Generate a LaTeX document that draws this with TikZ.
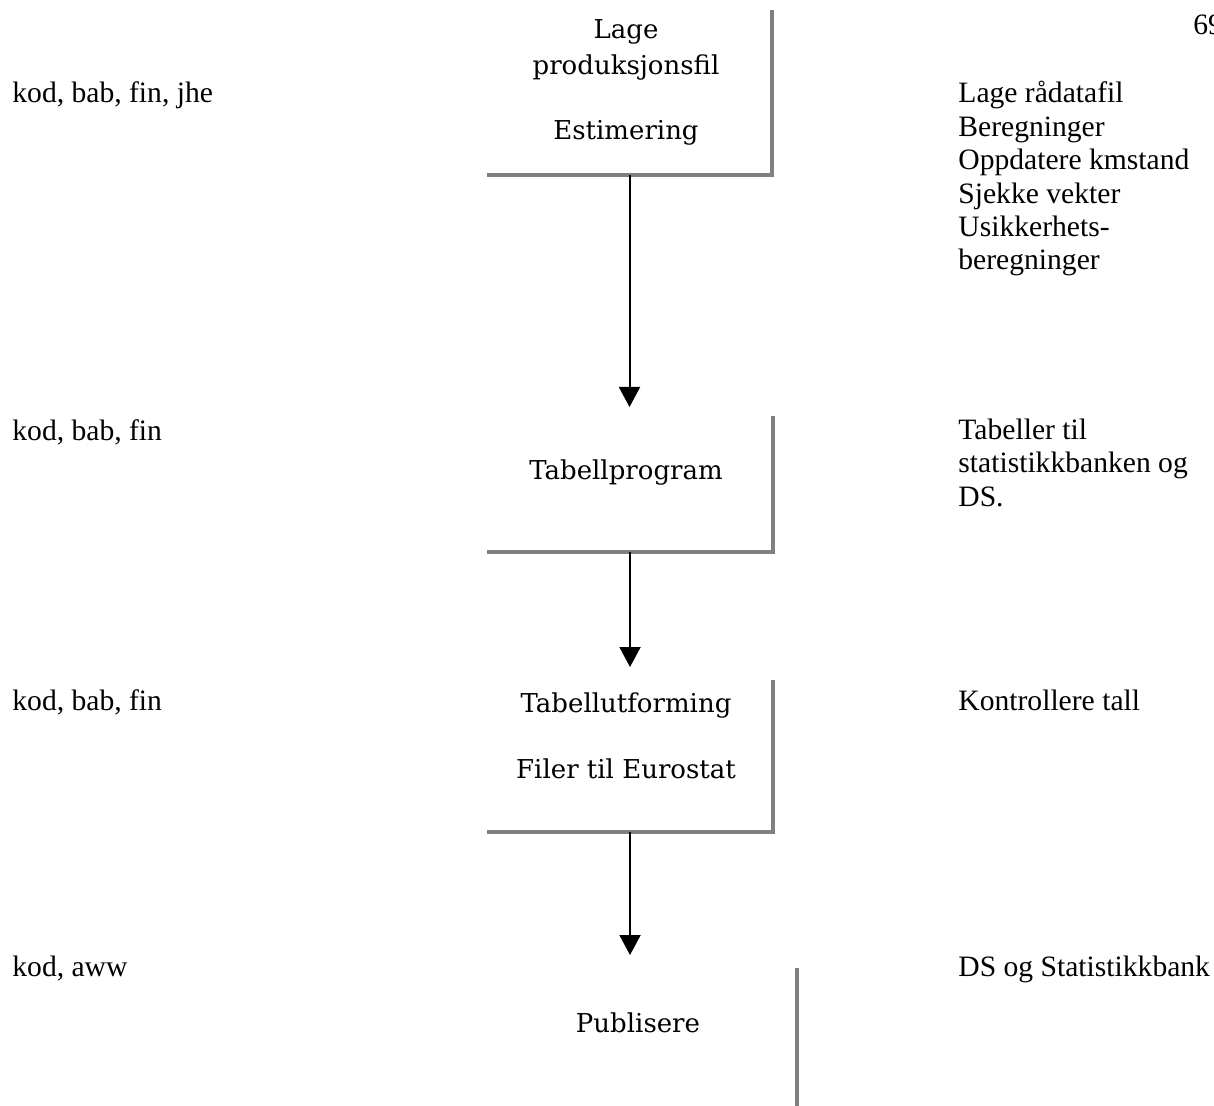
\documentclass[tikz,border=0pt]{standalone}
\usepackage{fontspec}
\setmainfont{Liberation Serif}
\newfontfamily\boxfont{DejaVu Serif}
\usetikzlibrary{arrows.meta}
\begin{document}
\begin{tikzpicture}[x=0.5pt,y=-0.5pt,
  frame/.style={inner sep=0pt, outer sep=0pt, draw=none},
  shadowedge/.style={draw=black!50, line width=2pt, line join=miter},
  flow/.style={draw=black, line width=1pt, -{Triangle[width=10.5pt,length=10pt]}},
  boxtext/.style={inner sep=0pt, anchor=base, align=center,
    font=\boxfont\fontsize{13}{18}\selectfont},
  sidetext/.style={inner sep=0pt, anchor=base west, align=left,
    font=\fontsize{14.8}{16.7}\selectfont}]
\useasboundingbox (0,0) rectangle (1214,1106);
\clip (0,0) rectangle (1214,1106);

% process boxes (only the right and bottom edges are drawn)
\node[frame, minimum width=142.5pt, minimum height=82.5pt] (b1) at (629.5,92.5) {};
\node[frame, minimum width=143pt, minimum height=68pt] (b2) at (630,484) {};
\node[frame, minimum width=143pt, minimum height=76pt] (b3) at (630,756) {};
\node[frame, minimum width=155pt, minimum height=86pt] (b4) at (642,1054) {};

\draw[shadowedge] (b1.north east) -- (b1.south east) -- (b1.south west);
\draw[shadowedge] (b2.north east) -- (b2.south east) -- (b2.south west);
\draw[shadowedge] (b3.north east) -- (b3.south east) -- (b3.south west);
\draw[shadowedge] (b4.north east) -- (b4.south east);

% box labels (base anchor = baseline of the last line)
\node[boxtext] (t1) at (626,140) {Lage\\produksjonsfil\\[14.5pt]Estimering};
\node[boxtext] (t2) at (626,480) {Tabellprogram};
\node[boxtext] (t3) at (626,778) {Tabellutforming\\[15pt]Filer til Eurostat};
\node[boxtext] (t4) at (638,1032) {Publisere};

% flow between the steps
\draw[flow, shorten >=4.5pt] (b1.south) -- (b1.south |- b2.north);
\draw[flow, shorten >=6.5pt] (b2.south) -- (b2.south |- b3.north);
\draw[flow, shorten >=6.5pt] (b3.south) -- (b3.south |- b4.north);

% responsible persons
\node[sidetext] (p1) at (12,103) {kod, bab, fin, jhe};
\node[sidetext] (p2) at (12,441) {kod, bab, fin};
\node[sidetext] (p3) at (12,710) {kod, bab, fin};
\node[sidetext] (p4) at (12,976) {kod, aww};

% tasks
\node[sidetext] (r1) at (958,270) {Lage rådatafil\\Beregninger\\Oppdatere kmstand\\Sjekke vekter\\Usikkerhets-\\beregninger};
\node[sidetext] (r2) at (958,506) {Tabeller til\\statistikkbanken og\\DS.};
\node[sidetext] (r3) at (958,710) {Kontrollere tall};
\node[sidetext] (r4) at (958,976) {DS og Statistikkbank};

% page number
\node[sidetext] (pg) at (1193,35) {69};
\end{tikzpicture}
\end{document}
